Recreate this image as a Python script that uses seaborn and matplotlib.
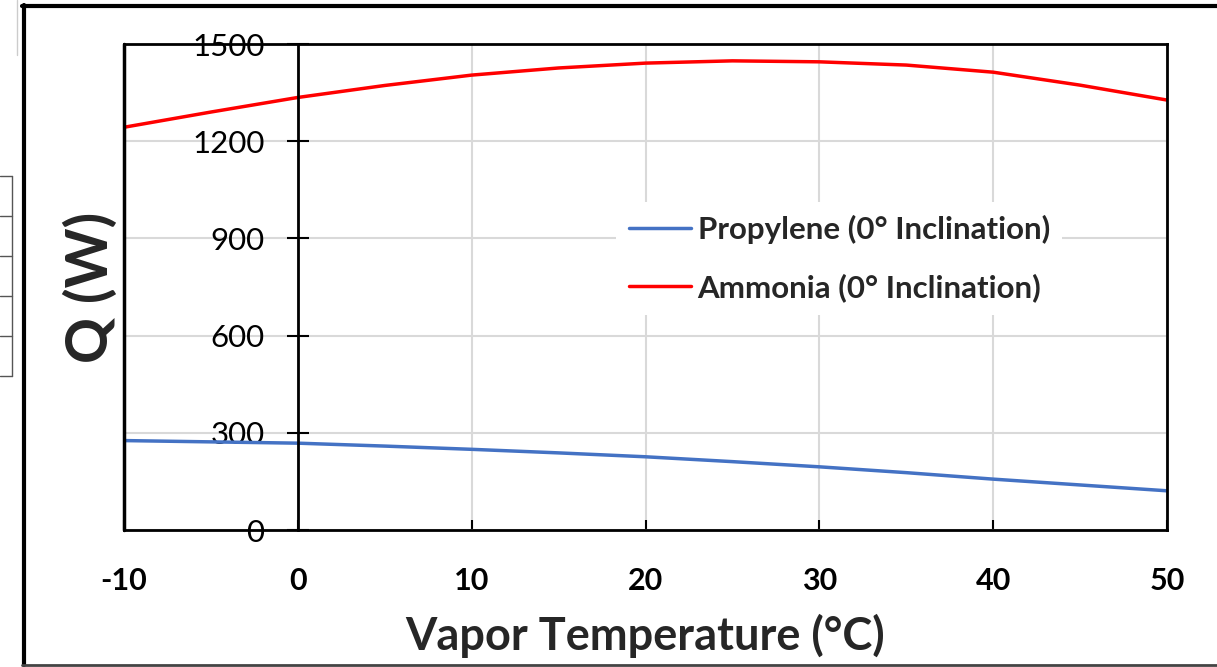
import matplotlib
matplotlib.use("Agg")
import matplotlib.pyplot as plt
import seaborn as sns
import pandas as pd
from matplotlib.lines import Line2D

# data
temps = [-10, -5, 0, 5, 10, 15, 20, 25, 30, 35, 40, 45, 50]
q_propylene = [276, 272, 268, 259, 249, 238, 226, 211, 195, 177, 157, 139, 121]
q_ammonia = [1243, 1290, 1335, 1372, 1404, 1426, 1441, 1448, 1445, 1435, 1413, 1373, 1327]
series_names = ["Propylene (0° Inclination)", "Ammonia (0° Inclination)"]
x_ticks = [-10, 0, 10, 20, 30, 40, 50]
y_ticks = [0, 300, 600, 900, 1200, 1500]

df = pd.concat([
    pd.DataFrame({"T": temps, "Q": q_propylene, "Fluid": series_names[0]}),
    pd.DataFrame({"T": temps, "Q": q_ammonia, "Fluid": series_names[1]}),
])

sns.set_theme(style="white")
plt.rcParams['font.family'] = ['Lato', 'DejaVu Sans']
plt.rcParams['axes.unicode_minus'] = False

W, H = 1217, 667
fig = plt.figure(figsize=(W / 100, H / 100), dpi=100)
ax = fig.add_axes([124 / W, 1 - 530 / H, (1167 - 124) / W, (530 - 44) / H])

pal = {series_names[0]: "#4472C4", series_names[1]: "#FF0000"}
sns.lineplot(data=df, x="T", y="Q", hue="Fluid", palette=pal, linewidth=2.5, ax=ax)

ax.set_xlim(-10, 50)
ax.set_ylim(0, 1500)
ax.set_xticks(x_ticks)
ax.set_yticks(y_ticks)
ax.set_axisbelow(True)
ax.grid(True, color="#d9d9d9", linewidth=1.5)

# frame + y axis crossing at x=0
for s in ax.spines.values():
    s.set_color("black")
    s.set_linewidth(2)
ax.spines['left'].set_position(('data', 0))
ax.axvline(-10, color="black", linewidth=2.5, clip_on=False, zorder=5)

ax.tick_params(axis='y', direction='inout', length=16, width=1.5, pad=16,
               labelsize=22.5, left=True, colors="black")
ax.tick_params(axis='x', direction='in', length=7, width=1.5, pad=27,
               labelsize=22, bottom=True, colors="black")
for lab in ax.get_xticklabels():
    lab.set_fontweight('bold')

ax.set_xlabel("Vapor Temperature (°C)", fontsize=32.5, fontweight='bold')
ax.xaxis.set_label_coords(0.5, -0.172)
ax.set_ylabel("Q (W)", fontsize=41, fontweight='bold')
ax.yaxis.set_label_coords(-0.006, 0.5)

leg = ax.legend(loc='upper left', bbox_to_anchor=(0.472, 0.675),
                prop={'weight': 'bold', 'size': 22.5}, frameon=True,
                facecolor='white', edgecolor='none', framealpha=1,
                handlelength=2.0, handletextpad=0.2, labelspacing=0.95,
                borderaxespad=0, fancybox=False)
for h in leg.get_lines():
    h.set_linewidth(2.5)

# outer frame and the spreadsheet remnants on the left
lines = [
    ([23.5, 23.5], [5, 665], "black", 3),
    ([22, W], [5.5, 5.5], "black", 3),
    ([22, W], [665, 665], "#444444", 2),
    ([16.5, 16.5], [0, 55], "#cccccc", 1),
    ([12, 12], [176, 376], "#555555", 1),
]
for y in [176, 216, 256, 296, 336, 376]:
    lines.append(([0, 12], [y, y], "#555555", 1))
for xs, ys, c, lw in lines:
    fig.add_artist(Line2D([x / W for x in xs], [1 - y / H for y in ys],
                          color=c, linewidth=lw, transform=fig.transFigure))

fig.savefig("out.png", dpi=100)
